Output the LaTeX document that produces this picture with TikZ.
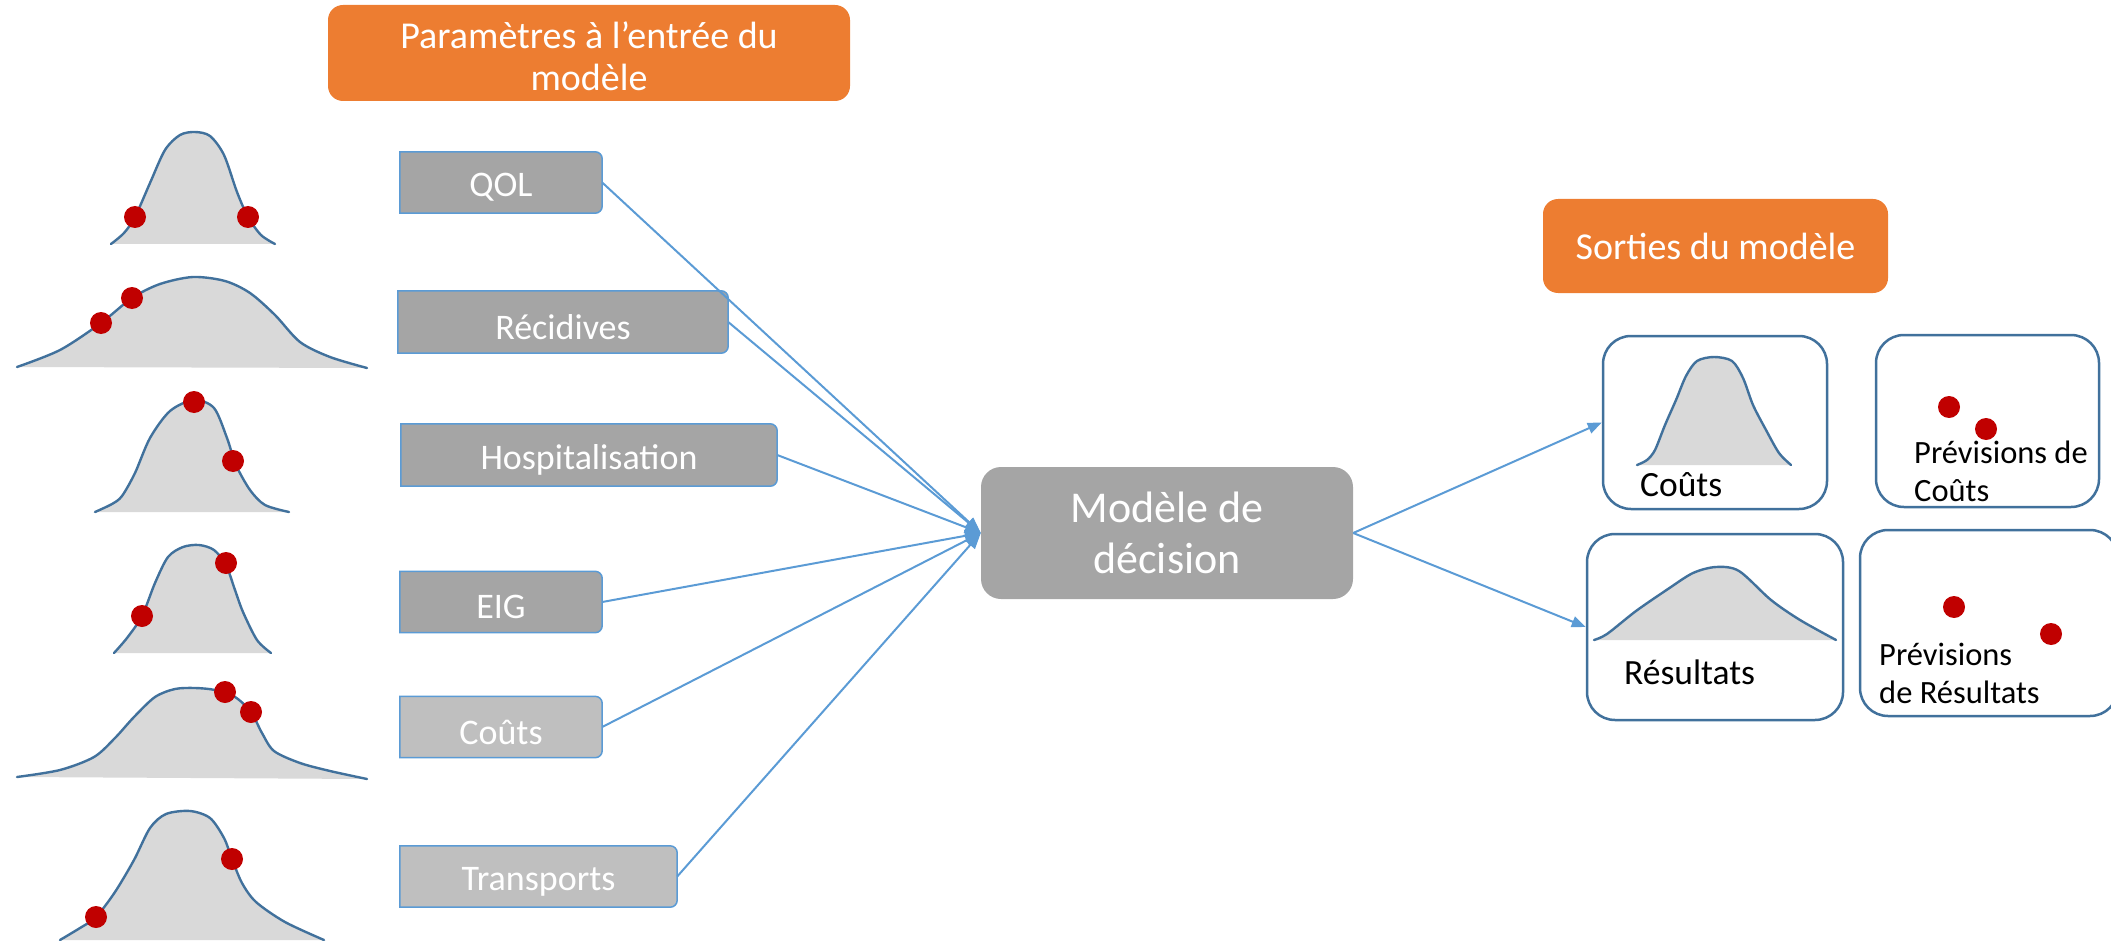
\documentclass[tikz,border=0pt]{standalone}
\usepackage{fontspec}
\setmainfont{Carlito}
\usetikzlibrary{arrows.meta,backgrounds}
\definecolor{orangeA}{HTML}{ED7D31}
\definecolor{grayA}{HTML}{A5A5A5}
\definecolor{grayB}{HTML}{BFBFBF}
\definecolor{blueA}{HTML}{5B9BD5}
\definecolor{blueB}{HTML}{41719C}
\definecolor{redA}{HTML}{C00000}
\definecolor{fillA}{HTML}{D9D9D9}
\tikzset{
 header/.style={fill=orangeA, rounded corners=15pt, text=white, align=center, font=\fontsize{38}{43}\selectfont, inner sep=0pt},
 inbox/.style={text=white, font=\fontsize{36}{42}\selectfont, inner sep=0pt, minimum height=61pt},
 decbox/.style={fill=grayA, rounded corners=20pt, text=white, align=center, font=\fontsize{44}{51}\selectfont, inner sep=0pt, minimum width=372pt, minimum height=132pt},
 arr/.style={draw=blueA, line width=2pt, -{Triangle[length=16pt,width=12pt]}},
 outbox/.style={draw=blueB, line width=2.5pt, fill=white, rounded corners=28pt, inner sep=0pt},
 curve/.style={draw=blueB, line width=2.4pt, line cap=round},
 curvefill/.style={fill=fillA},
 lbl/.style={text=black, inner sep=0pt, font=\fontsize{35.5}{42}\selectfont},
 lblsmall/.style={text=black, inner sep=0pt, align=left, font=\fontsize{32.5}{38}\selectfont},
 reddot/.style={fill=redA},
}
\newcommand\dropby[2]{\raisebox{-#1}[\height][\depth]{#2}}
\newcommand\bellcurve[1]{\fill[curvefill] plot[smooth] coordinates {#1} -- cycle; \draw[curve] plot[smooth] coordinates {#1};}
\newcommand\tabframe[2]{\begin{scope}[on background layer]\path[draw=blueA, line width=1.5pt, fill=#2] (#1.south west) -- (#1.north west) [rounded corners=7pt] -- (#1.north east) -- (#1.south east) [sharp corners] -- cycle;\end{scope}}
\begin{document}
\begin{tikzpicture}[x=1pt,y=-1pt]
\useasboundingbox (0,0) rectangle (2111,941);
% headers
\node[header, minimum width=522pt, minimum height=96pt] (h1) at (589,53) {\dropby{4pt}{Paramètres à l’entrée du}\\\dropby{3pt}{modèle}};
\node[header, minimum width=345pt, minimum height=94pt] (h2) at (1715.5,246) {Sorties du modèle};
% input bell curves
\bellcurve{(111,244) (124,233) (135,217) (150,183) (165,150) (180,135) (195,132) (210,136) (224,155) (237,192) (248,217) (261,235) (275,244)}
\bellcurve{(17,367) (60,350) (101,323) (132,298) (160,284) (193,277) (225,281) (250,293) (275,315) (300,342) (330,357) (367,368)}
\bellcurve{(95,512) (112,504) (122,496) (135,473) (150,438) (170,411) (194,400) (214,408) (227,438) (236,465) (250,490) (265,505) (289,512)}
\bellcurve{(114,653) (127,638) (142,616) (155,583) (168,557) (183,547) (199,545) (214,550) (226,565) (235,590) (243,612) (257,640) (271,653)}
\bellcurve{(17,777) (60,770) (94,757) (115,738) (134,717) (155,697) (175,689) (195,688) (215,690) (235,697) (251,712) (262,733) (274,751) (300,763) (330,771) (367,779)}
\bellcurve{(60,940) (80,928) (96,917) (115,892) (134,860) (150,828) (166,814) (190,811) (210,818) (224,838) (232,859) (242,883) (256,902) (285,922) (324,940)}
\foreach \p in {(135,217),(248,217),(101,323),(132,298),(194,402),(233,461),(142,616),(226,563),(225,692),(251,712),(96,917),(232,859)}
  \fill[reddot] \p circle (11pt);
% input boxes
\node[inbox, minimum width=202pt] (qol) at (501,182.5) {\dropby{5pt}{QOL}};
\node[inbox, minimum width=330pt, minimum height=62pt] (rec) at (563,322) {\dropby{5pt}{Récidives}};
\node[inbox, minimum width=376pt, minimum height=62pt] (hosp) at (589,455) {\dropby{5pt}{Hospitalisation}};
\node[inbox, minimum width=202pt] (eig) at (501,602) {\dropby{5pt}{EIG}};
\node[inbox, minimum width=202pt] (cou) at (501,727) {\dropby{5pt}{Coûts}};
\node[inbox, minimum width=277pt] (tra) at (538.5,876.5) {\dropby{5pt}{Transports}};
\tabframe{qol}{grayA}
\tabframe{rec}{grayA}
\tabframe{hosp}{grayA}
\tabframe{eig}{grayA}
\tabframe{cou}{grayB}
\tabframe{tra}{grayB}
% decision model
\node[decbox] (dec) at (1167,533) {Modèle de\\décision};
% output boxes
\node[outbox, minimum width=224pt, minimum height=173pt] (oc) at (1715,422.5) {};
\node[outbox, minimum width=223pt, minimum height=172pt] (opc) at (1987.5,421) {};
\node[outbox, minimum width=256pt, minimum height=186pt] (ores) at (1715,627) {};
\node[outbox, minimum width=258pt, minimum height=186pt] (opr) at (1989,623) {};
% output curves
\bellcurve{(1637,465) (1647,460) (1655,450) (1665,425) (1676,400) (1686,376) (1697,361) (1714,357) (1732,361) (1743,378) (1753,405) (1766,430) (1779,453) (1791,465)}
\bellcurve{(1594,640) (1607,634) (1636,611) (1668,589) (1693,573) (1716,567) (1739,571) (1771,600) (1800,620) (1836,640)}
\foreach \p in {(1949,407),(1986,429),(1954,607),(2051,634)}
  \fill[reddot] \p circle (11pt);
\node[lbl, anchor=base west] (tc) at (1640,496) {Coûts};
\node[lblsmall, anchor=west] (tpc) at (1914,471) {Prévisions de\\Coûts};
\node[lbl, anchor=base west] (tr) at (1624,684) {Résultats};
\node[lblsmall, anchor=west] (tpr) at (1879,673) {Prévisions\\de Résultats};
% connectors
\draw[arr] (qol.east) -- (dec.west);
\draw[arr] (rec.east) -- (dec.west);
\draw[arr] (hosp.east) -- (dec.west);
\draw[arr] (eig.east) -- (dec.west);
\draw[arr] (cou.east) -- (dec.west);
\draw[arr] (tra.east) -- (dec.west);
\draw[arr, -{Triangle[length=14pt,width=11pt]}] (dec.east) -- (oc.west);
\draw[arr, -{Triangle[length=14pt,width=11pt]}] (dec.east) -- (ores.west);
\end{tikzpicture}
\end{document}
